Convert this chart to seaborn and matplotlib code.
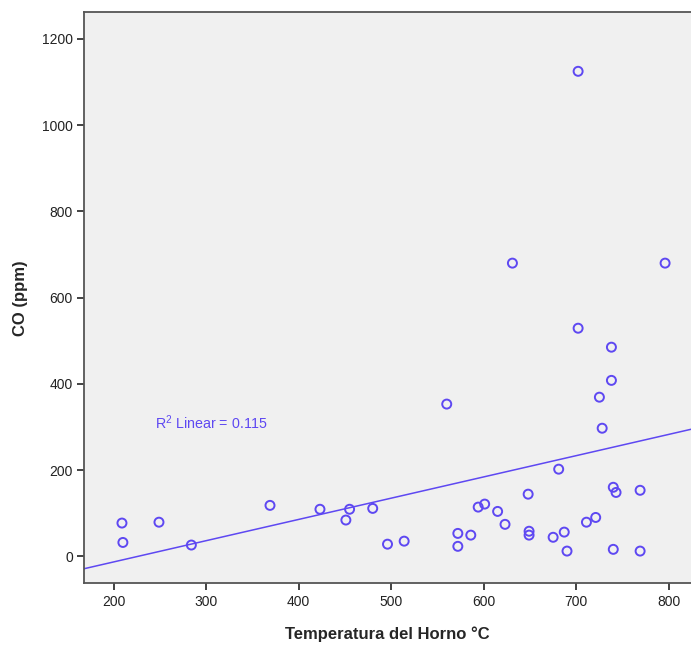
import matplotlib
matplotlib.use("Agg")
import matplotlib.pyplot as plt
import seaborn as sns
import pandas as pd

# Oven temperature (°C) and measured CO (ppm)
temperatura = [209, 210, 249, 284, 369, 423, 451, 455, 480, 496, 514,
               560, 572, 572, 586, 594, 601, 615, 623, 631, 648, 649,
               649, 675, 681, 687, 690, 702, 702, 711, 721, 725, 728,
               738, 738, 740, 740, 743, 769, 769, 796]
co = [77, 32, 79, 26, 118, 109, 84, 109, 111, 28, 35,
      353, 53, 23, 49, 114, 121, 104, 74, 680, 144, 58,
      49, 44, 202, 56, 12, 1125, 529, 79, 90, 369, 297,
      485, 408, 160, 16, 148, 153, 12, 680]

r2_label = "0.115"
x_ticks = [200, 300, 400, 500, 600, 700, 800]
y_ticks = [0, 200, 400, 600, 800, 1000, 1200]

df = pd.DataFrame({"Temperatura": temperatura, "CO": co})

sns.set_theme(style="ticks")
plt.rcParams["font.family"] = ["Liberation Sans", "DejaVu Sans"]
plt.rcParams["mathtext.fontset"] = "custom"
plt.rcParams["mathtext.rm"] = "Liberation Sans"
plt.rcParams["mathtext.it"] = "Liberation Sans:italic"
plt.rcParams["mathtext.bf"] = "Liberation Sans:bold"

blue = "#5e48f2"

fig = plt.figure(figsize=(6.91, 6.45), dpi=100)
ax = fig.add_axes([0.1216, 0.0955, 0.8784, 0.8855])
ax.set_facecolor("#f0f0f0")
ax.set_xlim(168, 824)
ax.set_ylim(-63, 1262)

sns.regplot(data=df, x="Temperatura", y="CO", ax=ax, ci=None, truncate=False,
            color=blue,
            scatter_kws=dict(s=42, facecolors="none", edgecolors=blue,
                             linewidths=1.4, alpha=1, zorder=3),
            line_kws=dict(color=blue, lw=1.1, zorder=2))

ax.set_xlim(168, 824)
ax.set_ylim(-63, 1262)
ax.set_xticks(x_ticks)
ax.set_yticks(y_ticks)
ax.tick_params(axis="both", labelsize=10, colors="#222222", length=5,
               width=1.2, direction="out", pad=3)

for side in ["left", "bottom", "top"]:
    ax.spines[side].set_color("#555555")
    ax.spines[side].set_linewidth(1.3)
ax.spines["right"].set_visible(False)

ax.text(245, 309, r"R$^{2}$ Linear = " + r2_label, color=blue, fontsize=10.3,
        ha="left", va="center")

ax.set_xlabel("Temperatura del Horno °C", fontsize=12, fontweight="bold",
              labelpad=13)
ax.set_ylabel("CO (ppm)", fontsize=12, fontweight="bold", labelpad=10)

fig.savefig("out.png", dpi=100, facecolor="white")
